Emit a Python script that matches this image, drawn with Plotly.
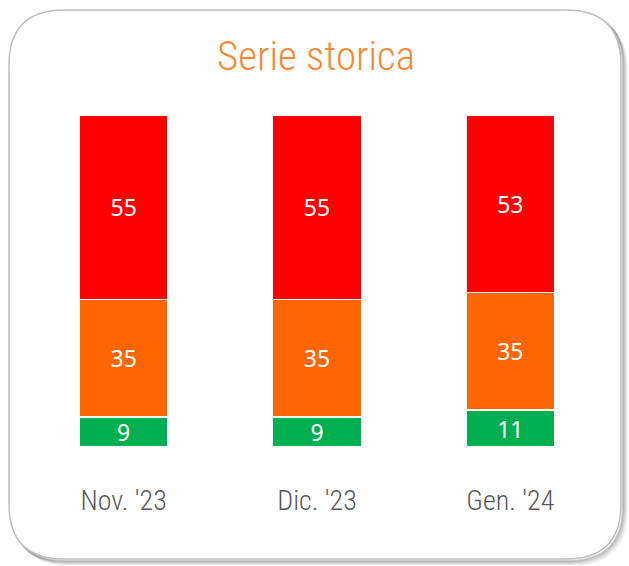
import plotly.graph_objects as go

categories = ["Nov. '23", "Dic. '23", "Gen. '24"]
green_vals = [9, 9, 11]
orange_vals = [35, 35, 35]
red_vals = [55, 55, 53]
title_text = "Serie storica"

W, H = 629, 566
ML, MR, MT, MB = 27, 22, 115, 119
PW, PH = W - ML - MR, H - MT - MB
COND = "Roboto Condensed, DejaVu Sans Condensed, sans-serif"

def px(x):
    return (x - ML) / PW

def py(y):
    return (H - MB - y) / PH

def rounded_path(x0, y0, x1, y1, r):
    pts = [
        f"M {px(x0 + r)},{py(y0)}",
        f"L {px(x1 - r)},{py(y0)}",
        f"Q {px(x1)},{py(y0)} {px(x1)},{py(y0 + r)}",
        f"L {px(x1)},{py(y1 - r)}",
        f"Q {px(x1)},{py(y1)} {px(x1 - r)},{py(y1)}",
        f"L {px(x0 + r)},{py(y1)}",
        f"Q {px(x0)},{py(y1)} {px(x0)},{py(y1 - r)}",
        f"L {px(x0)},{py(y0 + r)}",
        f"Q {px(x0)},{py(y0)} {px(x0 + r)},{py(y0)}",
        "Z",
    ]
    return " ".join(pts)

fig = go.Figure()
common = dict(textposition="inside", insidetextanchor="middle", textangle=0,
              constraintext="none",
              textfont=dict(color="white", size=23, family="Noto Sans, sans-serif"),
              marker_line=dict(color="white", width=1.5), hoverinfo="skip")
fig.add_bar(x=categories, y=green_vals, text=green_vals, marker_color="#00B050", **common)
fig.add_bar(x=categories, y=orange_vals, text=orange_vals, marker_color="#FF6600", **common)
fig.add_bar(x=categories, y=red_vals, text=red_vals, marker_color="#FF0000", **common)

shapes = []
for off, op in [(6, 0.06), (5, 0.1), (4, 0.16), (3, 0.24), (2, 0.32)]:
    shapes.append(dict(type="path", xref="paper", yref="paper",
                       path=rounded_path(9 + off, 10 + off, 621 + off, 559 + off, 55),
                       line=dict(color=f"rgba(100,100,100,{op})", width=2),
                       layer="below"))
shapes.append(dict(type="path", xref="paper", yref="paper",
                   path=rounded_path(9, 10, 621, 559, 55),
                   line=dict(color="#BFBFBF", width=1.5), fillcolor="white",
                   layer="below"))

fig.update_layout(
    width=W, height=H,
    margin=dict(l=ML, r=MR, t=MT, b=MB),
    barmode="stack", bargap=0.54,
    showlegend=False,
    uniformtext=dict(minsize=22, mode="show"),
    paper_bgcolor="white", plot_bgcolor="rgba(0,0,0,0)",
    shapes=shapes,
    annotations=[dict(text=title_text, xref="paper", yref="paper",
                      x=px(316), y=py(56), showarrow=False,
                      xanchor="center", yanchor="middle",
                      font=dict(family=COND, size=41, weight=300, color="#F58A34"))],
    xaxis=dict(showgrid=False, showline=False, zeroline=False, ticks="",
               ticklabelstandoff=34,
               tickfont=dict(family=COND, size=28, weight=300, color="#595959")),
    yaxis=dict(range=[0, 99], visible=False, showgrid=False, zeroline=False),
)

fig.write_html("out.html", config={"displayModeBar": False},
               post_script="document.body.style.margin='0';")
